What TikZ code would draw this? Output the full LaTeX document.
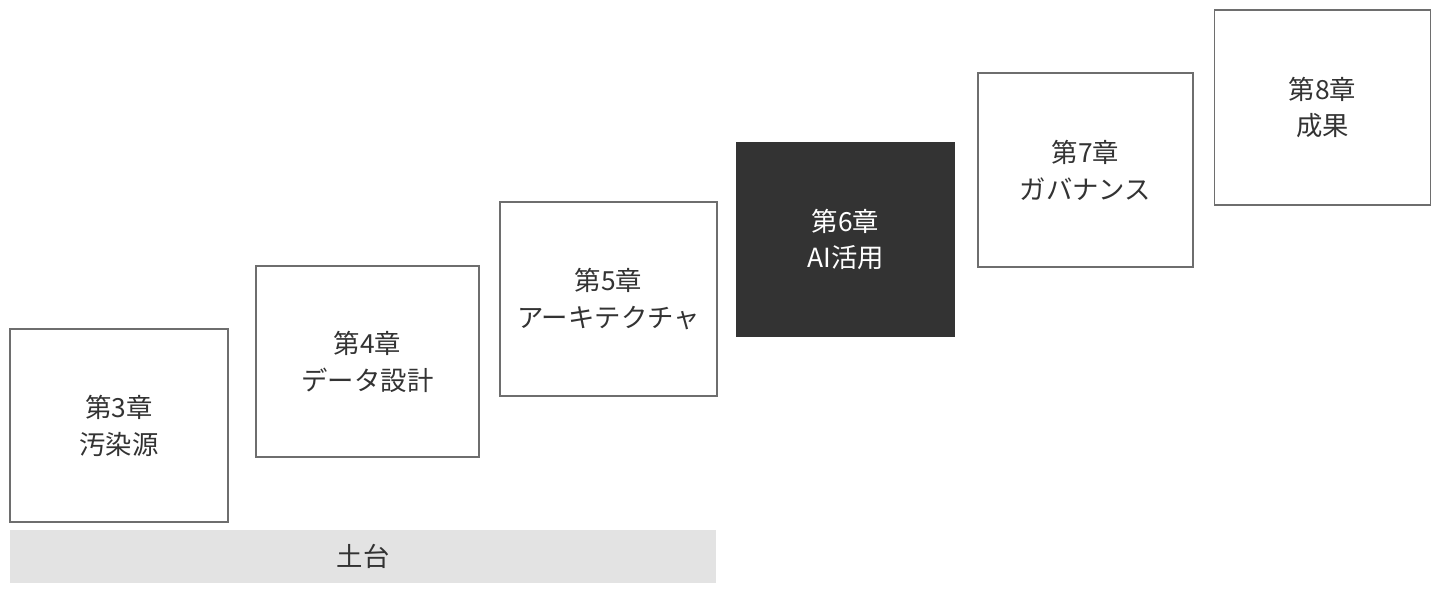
\documentclass[tikz,border=0pt]{standalone}
\usepackage{fontspec}
\setmainfont{Noto Sans CJK JP}
\definecolor{framegray}{HTML}{6E6E6E}
\definecolor{inkgray}{HTML}{333333}
\definecolor{basegray}{HTML}{E3E3E3}
\begin{document}
\begin{tikzpicture}[x=0.02cm,y=-0.02cm,line join=miter,font=\fontsize{15}{21}\selectfont]
	\tikzset{chapbox/.style={draw=framegray,line width=0.9pt,fill=white,text=inkgray,align=center,inner sep=0pt},
		darkbox/.style={chapbox,fill=inkgray,draw=inkgray,text=white},
		basebar/.style={fill=basegray,text=inkgray,inner sep=0pt}}
	\def\u{0.02cm}
	\useasboundingbox (0,0) rectangle (1440,594);
	% Kapitel-Kaesten, links unten nach rechts oben
	\foreach \n/\x/\y/\w/\h/\t in {c3/119/425.5/218/193/{第3章\\汚染源},
			c4/367.5/361.5/223/191/{第4章\\データ設計},
			c5/608.5/299/217/194/{第5章\\アーキテクチャ},
			c7/1085.5/170/215/194/{第7章\\ガバナンス},
			c8/1322.5/107.5/216/195/{第8章\\成果}}{
			\node[chapbox,minimum width=\w*\u,minimum height=\h*\u] (\n) at (\x,\y) {\t};}
	\node[darkbox,minimum width=217*\u,minimum height=193*\u] (c6) at (845.5,239.5) {第6章\\AI活用};
	% Fundament
	\node[basebar,minimum width=706*\u,minimum height=53*\u] (base) at (363,556.5) {土台};
\end{tikzpicture}
\end{document}
